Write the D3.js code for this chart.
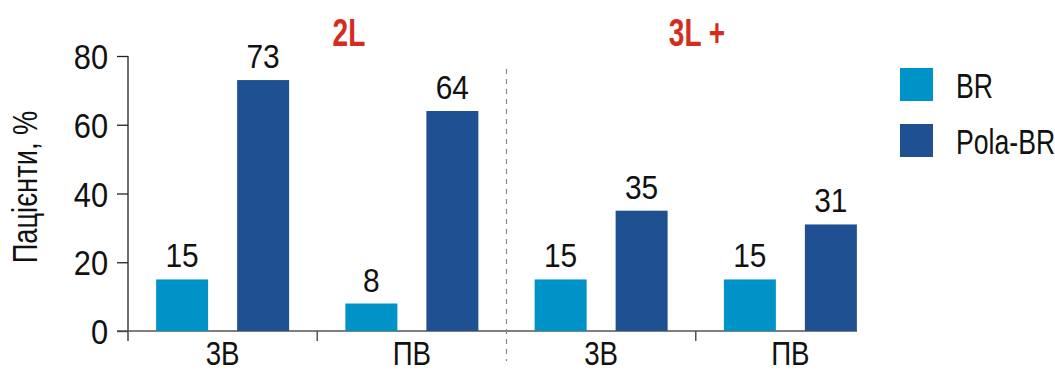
<!DOCTYPE html>
<html>
<head>
<meta charset="utf-8">
<script src="https://cdn.jsdelivr.net/npm/d3@7"></script>
<style>
  html, body { margin: 0; padding: 0; background: #fff; }
  svg { display: block; }
  text { font-family: "Liberation Sans", Arial, sans-serif; fill: #111; }
</style>
</head>
<body>
<svg id="chart" width="1055" height="373"></svg>
<script>
// Treatment line groups and their outcome categories
const lines = ["2L", "3L +"];
const categories = ["3В", "ПВ", "3В", "ПВ"];
const seriesNames = ["BR", "Pola-BR"];
const brValues = [15, 8, 15, 15];
const polaValues = [73, 64, 35, 31];
const yTicks = [0, 20, 40, 60, 80];
const colors = ["#0093c8", "#1f5192"];

const svg = d3.select("#chart");

const x = d3.scaleBand().domain(d3.range(categories.length)).range([128, 885]);
const y = d3.scaleLinear().domain([0, 80]).range([331, 56]);

const barW = 52;
const offsets = [-66.5, 14.5];

// Draws a horizontally condensed text label anchored at (px, py)
function condensedText(parent, px, py, str, size, k, anchor) {
  return parent.append("text")
    .attr("transform", `translate(${px},${py}) scale(${k},1)`)
    .attr("text-anchor", anchor || "middle")
    .attr("font-size", size)
    .text(str);
}

// Y axis
const yAxis = d3.axisLeft(y).tickValues(yTicks).tickSize(11).tickPadding(0).tickSizeOuter(0);
const gy = svg.append("g").attr("transform", "translate(128,0)").call(yAxis);
gy.select(".domain").remove();
gy.selectAll(".tick line").attr("stroke", "#222").attr("stroke-width", 1.3);
gy.selectAll(".tick text")
  .attr("x", null).attr("dy", null)
  .attr("transform", "translate(-20,12.5) scale(0.88,1)")
  .attr("font-size", 35).attr("fill", "#111")
  .style("font-family", "'Liberation Sans', Arial, sans-serif");
svg.append("line").attr("x1", 128).attr("x2", 128).attr("y1", y(80)).attr("y2", 341)
  .attr("stroke", "#222").attr("stroke-width", 1.3);

// Baseline and category ticks
svg.append("line").attr("x1", 117).attr("x2", 857).attr("y1", y(0)).attr("y2", y(0))
  .attr("stroke", "#555").attr("stroke-width", 1.5);
[1, 3].forEach(i => {
  svg.append("line").attr("x1", x(i)).attr("x2", x(i)).attr("y1", y(0)).attr("y2", y(0) + 10)
    .attr("stroke", "#555").attr("stroke-width", 1.5);
});

// Separator between line groups
svg.append("line").attr("x1", x(2)).attr("x2", x(2)).attr("y1", 69).attr("y2", 361)
  .attr("stroke", "#888").attr("stroke-width", 1.2).attr("stroke-dasharray", "5,5");

// Bars with value labels
const series = [brValues, polaValues];
series.forEach((vals, s) => {
  const g = svg.append("g");
  g.selectAll("rect").data(vals).join("rect")
    .attr("x", (d, i) => x(i) + x.bandwidth() / 2 + offsets[s])
    .attr("y", d => y(d))
    .attr("width", barW)
    .attr("height", d => y(0) - y(d))
    .attr("fill", colors[s]);
  vals.forEach((d, i) => {
    condensedText(g, x(i) + x.bandwidth() / 2 + offsets[s] + barW / 2, y(d) - 12, d, 34, 0.88);
  });
});

// Category labels
categories.forEach((c, i) => {
  condensedText(svg, x(i) + x.bandwidth() / 2, 365, c, 33, 0.84);
});

// Line group headers
const headerX = { "2L": 349, "3L +": 697 };
lines.forEach(l => {
  condensedText(svg, headerX[l], 46, l, 39, 0.72)
    .attr("font-weight", "bold")
    .style("fill", "#d42c1f");
});

// Y axis title
svg.append("text")
  .attr("transform", "translate(37,187) rotate(-90) scale(0.78,1)")
  .attr("text-anchor", "middle")
  .attr("font-size", 35)
  .text("Пацієнти, %");

// Legend
seriesNames.forEach((name, i) => {
  svg.append("rect").attr("x", 900).attr("y", 68 + i * 56).attr("width", 33).attr("height", 33).attr("fill", colors[i]);
  condensedText(svg, 956, 98 + i * 56, name, 36, 0.74, "start");
});
</script>
</body>
</html>
